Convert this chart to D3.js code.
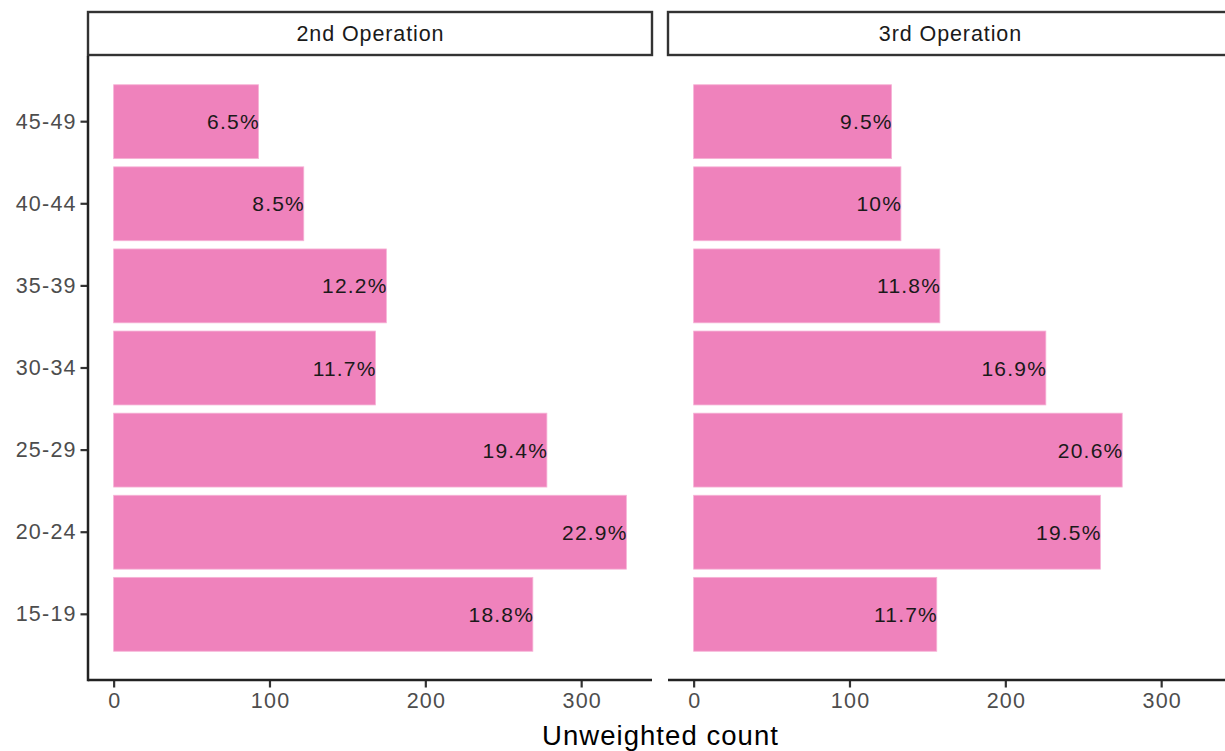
<!DOCTYPE html>
<html>
<head>
<meta charset="utf-8">
<script src="https://cdn.jsdelivr.net/npm/d3@7"></script>
<style>
  html, body { margin: 0; padding: 0; background: #fff; }
  svg { display: block; font-family: "Liberation Sans", Arial, Helvetica, sans-serif; }
</style>
</head>
<body>
<svg id="chart" width="1225" height="751"></svg>
<script>
// Age groups, bottom to top
const ageGroups = ["15-19", "20-24", "25-29", "30-34", "35-39", "40-44", "45-49"];
// Facet titles
const operations = ["2nd Operation", "3rd Operation"];
// Unweighted counts per age group
const countsSecond = [269, 329, 278, 168, 175, 122, 93];
const countsThird  = [156, 261, 275, 226, 158, 133, 127];
// Axis ticks
const xTicks = [0, 100, 200, 300];

const seriesByOperation = [countsSecond, countsThird];

const W = 1225, H = 751;
const panelW = 564;
const panelX = [88, 668];
const plotTop = 56, plotBottom = 680;
const stripTop = 12, stripBottom = 55;

const svg = d3.select("#chart");

const maxCount = d3.max(seriesByOperation.flat());
const x = d3.scaleLinear()
  .domain([-0.05 * maxCount, 1.05 * maxCount])
  .range([0, panelW]);

const y = d3.scaleBand()
  .domain(ageGroups.slice().reverse())
  .range([plotTop, plotBottom])
  .paddingInner(0.1)
  .paddingOuter(0.35);

const fmtPct = p => (Math.round(p * 1000) / 10) + "%";

const tickLS = 1.2;

operations.forEach((op, i) => {
  const counts = seriesByOperation[i];
  const total = d3.sum(counts);
  const g = svg.append("g").attr("transform", `translate(${panelX[i]},0)`);

  // strip
  g.append("rect")
    .attr("x", 0).attr("y", stripTop)
    .attr("width", panelW).attr("height", stripBottom - stripTop)
    .attr("fill", "#fff").attr("stroke", "#333").attr("stroke-width", 2.4);
  g.append("text")
    .attr("x", panelW / 2 + 0.45).attr("y", (stripTop + stripBottom) / 2)
    .attr("dy", "0.36em")
    .attr("text-anchor", "middle")
    .attr("font-size", 21.5)
    .attr("letter-spacing", 0.9)
    .attr("fill", "#1a1a1a")
    .text(op);

  // bars
  const rows = ageGroups.map((a, k) => ({ age: a, n: counts[k] }));
  g.selectAll("rect.bar").data(rows).join("rect")
    .attr("class", "bar")
    .attr("x", x(0))
    .attr("y", d => y(d.age))
    .attr("width", d => x(d.n) - x(0))
    .attr("height", y.bandwidth())
    .attr("fill", "#ef82bc")
    .attr("stroke", "#f6b3d6")
    .attr("stroke-width", 0.8);

  // value labels
  g.selectAll("text.lab").data(rows).join("text")
    .attr("class", "lab")
    .attr("x", d => x(d.n) + 1.2)
    .attr("y", d => y(d.age) + y.bandwidth() / 2)
    .attr("dy", "0.36em")
    .attr("text-anchor", "end")
    .attr("font-size", 21)
    .attr("letter-spacing", 1.2)
    .attr("fill", "#1a1a1a")
    .text(d => fmtPct(d.n / total));

  // x axis
  const xAxis = g.append("g")
    .attr("transform", `translate(0,${plotBottom})`)
    .call(d3.axisBottom(x).tickValues(xTicks).tickSize(7.5).tickPadding(5).tickSizeOuter(0));
  xAxis.select(".domain").remove();
  xAxis.selectAll(".tick line").attr("stroke", "#333").attr("stroke-width", 2.2);
  xAxis.selectAll(".tick text").attr("fill", "#4d4d4d").attr("font-size", 21.5)
    .attr("letter-spacing", tickLS).attr("dx", tickLS / 2)
    .attr("font-family", "Liberation Sans, Arial, sans-serif");
  g.append("line")
    .attr("x1", 0).attr("x2", panelW)
    .attr("y1", plotBottom).attr("y2", plotBottom)
    .attr("stroke", "#222").attr("stroke-width", 2.5);

  // y axis only on first panel
  if (i === 0) {
    const yAxis = g.append("g")
      .call(d3.axisLeft(y).tickSize(7.5).tickPadding(5).tickSizeOuter(0));
    yAxis.select(".domain").remove();
    yAxis.selectAll(".tick line").attr("stroke", "#333").attr("stroke-width", 2.2);
    yAxis.selectAll(".tick text").attr("fill", "#4d4d4d").attr("font-size", 21.5)
      .attr("letter-spacing", tickLS).attr("dx", tickLS)
      .attr("font-family", "Liberation Sans, Arial, sans-serif");
    g.append("line")
      .attr("x1", 0).attr("x2", 0)
      .attr("y1", plotTop).attr("y2", plotBottom + 1.25)
      .attr("stroke", "#222").attr("stroke-width", 2.5);
  }
});

// axis title
svg.append("text")
  .attr("x", (panelX[0] + panelX[1] + panelW) / 2 + 0.5)
  .attr("y", 745)
  .attr("text-anchor", "middle")
  .attr("font-size", 27.5)
  .attr("letter-spacing", 1.05)
  .attr("fill", "#000")
  .text("Unweighted count");
</script>
</body>
</html>
